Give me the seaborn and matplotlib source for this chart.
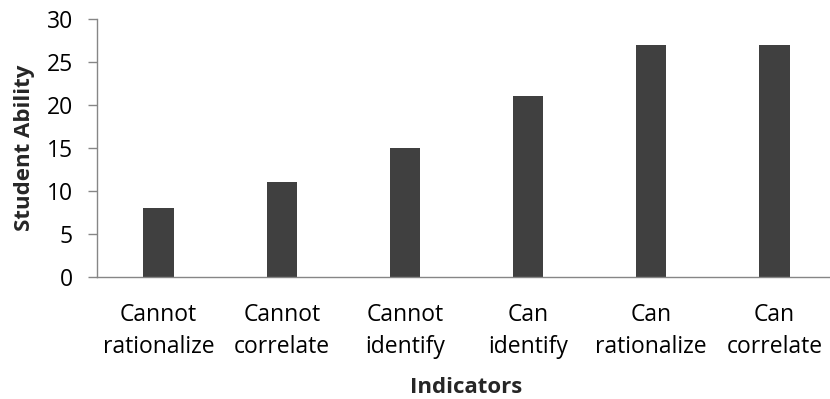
import matplotlib
matplotlib.use("Agg")
import matplotlib.pyplot as plt
import seaborn as sns
import pandas as pd

categories = ["Cannot\nrationalize", "Cannot\ncorrelate", "Cannot\nidentify",
              "Can\nidentify", "Can\nrationalize", "Can\ncorrelate"]
values = [8, 11, 15, 21, 27, 27]
yticks = [0, 5, 10, 15, 20, 25, 30]

sns.set_theme(style="white")
plt.rcParams['font.family'] = ['Open Sans', 'DejaVu Sans']

df = pd.DataFrame({"Indicators": categories, "Student Ability": values})

fig = plt.figure(figsize=(8.30, 3.99), dpi=100)
ax = fig.add_axes([97/830, 1-277/399, 739/830, (277-19)/399])
sns.barplot(data=df, x="Indicators", y="Student Ability", color="#404040",
            saturation=1, width=0.245, ax=ax)
for p in ax.patches:
    p.set_edgecolor("none")
ax.set_xlim(-0.5, 5.5)
ax.set_ylim(0, 30)
ax.set_yticks(yticks)
ax.set_yticklabels([str(t) for t in yticks], fontsize=16.5, color="black")
ax.tick_params(axis="y", direction="out", length=6.5, width=1, color="#868686", left=True, pad=11)
ax.tick_params(axis="x", length=0, pad=19, labelsize=16.5, labelcolor="black")
for lab in ax.get_xticklabels():
    lab.set_linespacing(1.4)
for s in ["top", "right"]:
    ax.spines[s].set_visible(False)
for s in ["left", "bottom"]:
    ax.spines[s].set_color("#868686")
    ax.spines[s].set_linewidth(1)
ax.set_xlabel("Indicators", fontsize=16, fontweight="bold", labelpad=13)
ax.set_ylabel("Student Ability", fontsize=16, fontweight="bold", labelpad=8)
fig.savefig("out.png", dpi=100)
